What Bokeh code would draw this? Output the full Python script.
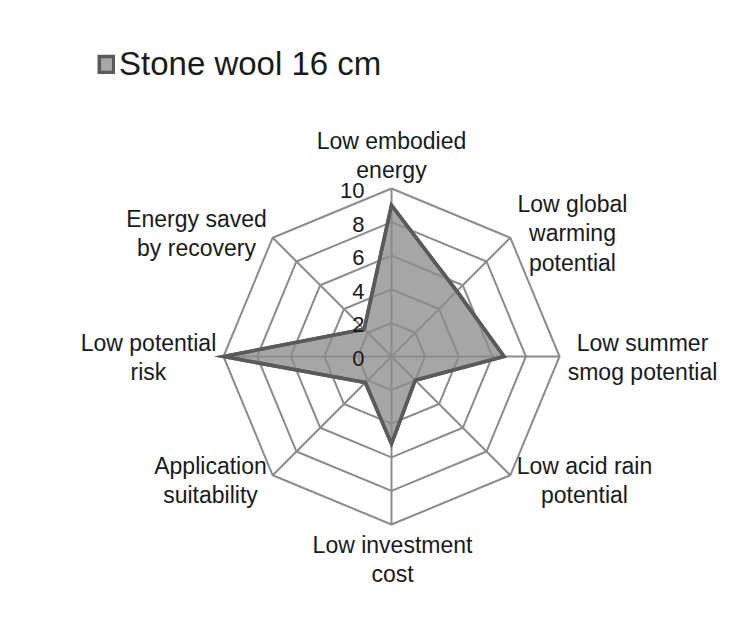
import math
from bokeh.plotting import figure
from bokeh.models import Range1d, Legend, LegendItem, ColumnDataSource
from bokeh.core.properties import value
from bokeh.embed import file_html
from bokeh.resources import INLINE

# ---- data ----
categories = [
    "Low embodied\nenergy",
    "Low global\nwarming\npotential",
    "Low summer\nsmog potential",
    "Low acid rain\npotential",
    "Low investment\ncost",
    "Application\nsuitability",
    "Low potential\nrisk",
    "Energy saved\nby recovery",
]
series_name = "Stone wool 16 cm"
series_values = [9, 5.5, 6.7, 2, 5.2, 2.2, 10, 2.3]
tick_values = [0, 2, 4, 6, 8, 10]
tick_labels = ["0", "2", "4", "6", "8", "10"]

# ---- layout (pixels) ----
W, H = 734, 606
CX, CY = 391, 356          # centre of radar within figure (from top-left)
R = 168.0                  # pixel radius of value 10
VMAX = 10.0
unit = R / VMAX
label_offsets = [(0, 201), (181, 123), (251, -1), (193, -124),
                 (1, -203), (-181, -124), (-243, -1), (-195, 123)]

FONT = "Liberation Sans"
GRID = "#8c8c8c"
FILL = "#a6a6a6"
EDGE = "#5a5a5a"
TXT = "#1a1a1a"

n = len(categories)
angles = [math.pi / 2 - i * 2 * math.pi / n for i in range(n)]

p = figure(width=W, height=H, output_backend="svg", toolbar_location=None,
           x_range=Range1d(-CX, W - CX), y_range=Range1d(-(H - CY), CY),
           min_border=0)
p.axis.visible = False
p.grid.visible = False
p.outline_line_color = None
p.background_fill_color = "white"
p.border_fill_color = "white"

# series fill (under grid)
sx = [v * unit * math.cos(a) for v, a in zip(series_values, angles)]
sy = [v * unit * math.sin(a) for v, a in zip(series_values, angles)]
r = p.patch(sx, sy, fill_color=FILL, line_color=EDGE, line_width=3.5,
            line_join="miter")

# rings
for v in tick_values[1:]:
    xs = [v * unit * math.cos(a) for a in angles] + [v * unit * math.cos(angles[0])]
    ys = [v * unit * math.sin(a) for a in angles] + [v * unit * math.sin(angles[0])]
    p.line(xs, ys, line_color=GRID, line_width=2)
# spokes
p.multi_line([[0, VMAX * unit * math.cos(a)] for a in angles],
             [[0, VMAX * unit * math.sin(a)] for a in angles],
             line_color=GRID, line_width=2)

# series outline on top
p.patch(sx, sy, fill_alpha=0, line_color=EDGE, line_width=3.5,
        line_join="miter")

# tick labels
p.text(x=[-27] * len(tick_values), y=[v * unit - 2 for v in tick_values],
       text=tick_labels, text_align="right", text_baseline="middle",
       text_font=value(FONT), text_font_size="22px", text_color=TXT)

# category labels
src = ColumnDataSource(dict(x=[o[0] for o in label_offsets],
                            y=[o[1] for o in label_offsets],
                            t=categories))
p.text(x="x", y="y", text="t", source=src, text_align="center",
       text_baseline="middle", text_font=value(FONT), text_font_size="23px",
       text_color=TXT, text_line_height=1.15)

legend = Legend(items=[LegendItem(label=series_name, renderers=[r])],
                location=(97, 523), orientation="horizontal",
                label_text_font=FONT, label_text_font_size="33px",
                label_text_color=TXT, glyph_width=18, glyph_height=20,
                label_height=30, label_standoff=4, padding=0, margin=0,
                border_line_alpha=0, background_fill_alpha=0)
p.add_layout(legend, "center")

open("out.html", "w").write(file_html(p, INLINE))
